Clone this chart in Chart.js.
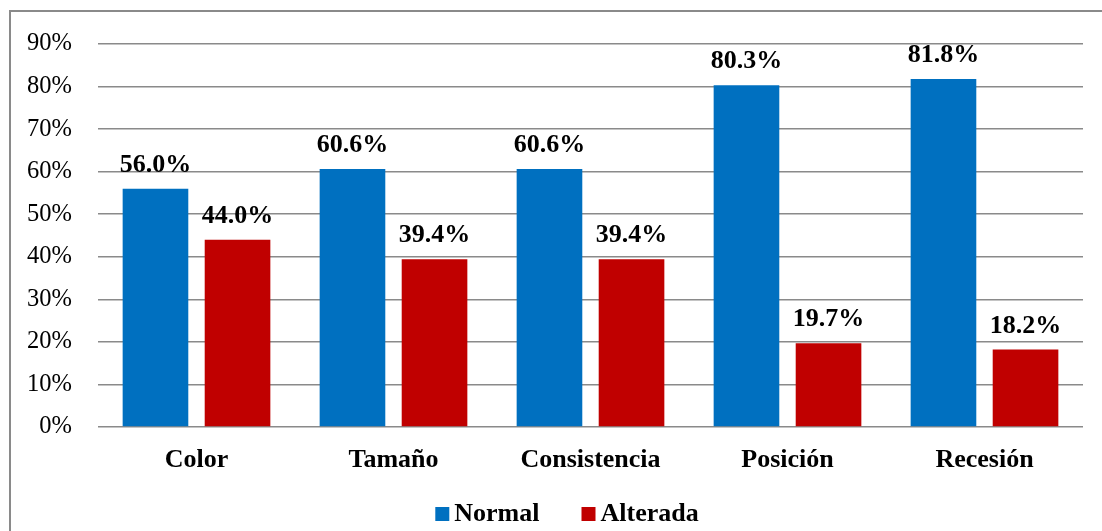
<!DOCTYPE html>
<html>
<head>
<meta charset="utf-8">
<script src="https://cdn.jsdelivr.net/npm/chart.js@4/dist/chart.umd.min.js"></script>
<style>
  html, body { margin: 0; padding: 0; background: #fff; overflow: hidden; }
  #wrap { position: relative; width: 1102px; height: 531px; }
</style>
</head>
<body>
<div id="wrap"><canvas id="chart" width="1102" height="531"></canvas></div>
<script>
const categories = ["Color", "Tamaño", "Consistencia", "Posición", "Recesión"];
const normalPct = [56.0, 60.6, 60.6, 80.3, 81.8];
const alteradaPct = [44.0, 39.4, 39.4, 19.7, 18.2];
const yTicks = [0, 10, 20, 30, 40, 50, 60, 70, 80, 90];

const SERIF = "'Liberation Serif', 'Times New Roman', serif";
const GRID = "#8a8a8a";

// outer frame around the chart
const framePlugin = {
    id: "frame",
    beforeDraw(chart) {
        const ctx = chart.ctx;
        ctx.save();
        ctx.strokeStyle = GRID;
        ctx.lineWidth = 2;
        ctx.strokeRect(10, 11, 2000, 2000);
        ctx.restore();
    }
};

// value labels on top of every bar
const valueLabels = {
    id: "valueLabels",
    afterDatasetsDraw(chart) {
        const ctx = chart.ctx;
        ctx.save();
        ctx.font = "bold 26px " + SERIF;
        ctx.fillStyle = "#000";
        ctx.textAlign = "center";
        ctx.textBaseline = "alphabetic";
        chart.data.datasets.forEach((ds, i) => {
            chart.getDatasetMeta(i).data.forEach((bar, j) => {
                ctx.fillText(ds.data[j].toFixed(1) + "%", bar.x, bar.y - 17);
            });
        });
        ctx.restore();
    }
};

// legend row below the axis
const legendRow = {
    id: "legendRow",
    afterDraw(chart) {
        const ctx = chart.ctx;
        const box = 14, gap = 5, spacing = 42, centerX = 567, baseY = 521;
        ctx.save();
        ctx.font = "bold 26px " + SERIF;
        const items = chart.data.datasets.map(ds => ({
            text: ds.label, color: ds.backgroundColor, w: ctx.measureText(ds.label).width
        }));
        let total = items.reduce((s, it) => s + box + gap + it.w, 0) + spacing * (items.length - 1);
        let x = centerX - total / 2;
        items.forEach(it => {
            ctx.fillStyle = it.color;
            ctx.fillRect(x, baseY - 14, box, box);
            ctx.fillStyle = "#000";
            ctx.textAlign = "left";
            ctx.textBaseline = "alphabetic";
            ctx.fillText(it.text, x + box + gap, baseY);
            x += box + gap + it.w + spacing;
        });
        ctx.restore();
    }
};

new Chart(document.getElementById("chart"), {
    type: "bar",
    data: {
        labels: categories,
        datasets: [
            { label: "Normal", data: normalPct, backgroundColor: "#0070C0" },
            { label: "Alterada", data: alteradaPct, backgroundColor: "#C00000" }
        ]
    },
    options: {
        responsive: false,
        animation: false,
        devicePixelRatio: 1,
        layout: { padding: { left: 0, right: 19, top: 44, bottom: 0 } },
        datasets: { bar: { categoryPercentage: 0.833, barPercentage: 0.80 } },
        plugins: {
            legend: { display: false },
            tooltip: { enabled: false }
        },
        scales: {
            x: {
                grid: { display: false, drawTicks: false },
                border: { display: false },
                ticks: {
                    color: "#000",
                    padding: 18,
                    font: { family: SERIF, size: 26, weight: "bold" }
                },
                afterFit(scale) { scale.height = 104; }
            },
            y: {
                min: 0,
                max: 90,
                afterBuildTicks(scale) { scale.ticks = yTicks.map(v => ({ value: v })); },
                grid: { color: GRID, lineWidth: 1.5, drawTicks: false },
                border: { display: false },
                ticks: {
                    color: "#000",
                    padding: 26,
                    font: { family: SERIF, size: 24.5 },
                    callback: v => v + "%"
                },
                afterFit(scale) { scale.width = 98; }
            }
        }
    },
    plugins: [framePlugin, valueLabels, legendRow]
});
</script>
</body>
</html>
